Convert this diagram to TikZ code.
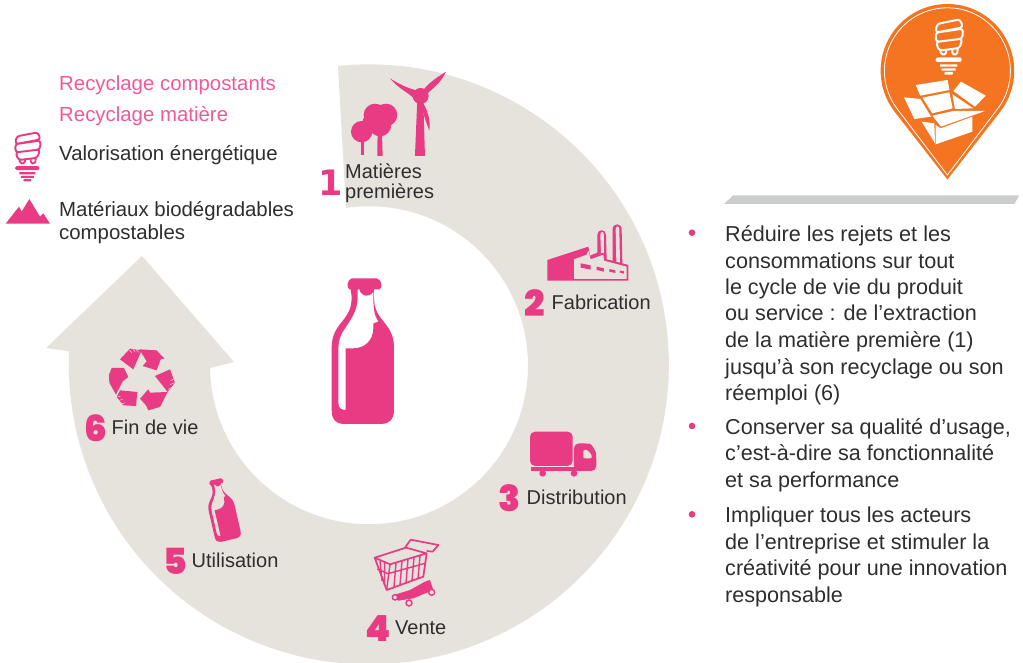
\documentclass[tikz,border=0pt]{standalone}
\usepackage{fontspec}
\setmainfont{Liberation Sans}
\newfontfamily\numfont{Poppins Black}
\newfontfamily\onefont{DejaVu Sans Bold}
\definecolor{ringc}{HTML}{E6E3DD}
\definecolor{pinkc}{HTML}{E83B83}
\definecolor{lightpink}{HTML}{EF5A9C}
\definecolor{orangec}{HTML}{F47421}
\definecolor{barc}{HTML}{CCCDCF}
\definecolor{txtc}{HTML}{2E2E2E}
\tikzset{
  lab/.style={anchor=base west,inner sep=0pt,yshift=-.8pt,text=txtc,font=\fontsize{20}{21}\selectfont},
  legendlab/.style={lab,font=\fontsize{20.4}{21}\selectfont},
  bodytxt/.style={anchor=base west,inner sep=0pt,yshift=-.8pt,text=txtc,font=\fontsize{21.6}{22}\selectfont},
  pinklab/.style={anchor=base west,inner sep=0pt,yshift=-.8pt,text=lightpink,font=\fontsize{20.4}{21}\selectfont},
  numlab/.style={anchor=base,inner sep=0pt,text=pinkc,font=\numfont\fontsize{36}{36}\selectfont},
  bulletdot/.style={circle,fill=pinkc,inner sep=0pt,minimum size=6.6pt}
}
% bulb icon: #1 scope options, #2 colour, #3 line width
\newcommand{\bulbicon}[3]{%
\begin{scope}[#1]
  \draw[#2,line width=#3,rounded corners=3pt,line join=round]
    (36,42) -- (105,28) -- (114,52) -- (32,68) -- cycle
    (32,68) -- (114,56) -- (112,86) -- (33,96) -- cycle
    (33,96) -- (112,86) -- (104,114) -- (42,122) -- cycle;
  \draw[#2,line width=#3,rounded corners=1.6pt]
    (46,120) -- (48,133) -- (63,133) -- (63,118)
    (82,116) -- (82,133) -- (97,133) -- (98,112);
  \fill[#2,rounded corners=1.5pt] (32,142) rectangle (110,156);
  \fill[#2] (45,163) rectangle (97,170) (50,175) rectangle (92,182);
  \fill[#2,rounded corners=1pt] (58,186) rectangle (84,194);
\end{scope}}
% bottle icon: even-odd silhouette
\newcommand{\bottleicon}[1]{%
\begin{scope}[#1]
  \fill[pinkc,even odd rule]
   (122,88) -- (118,88) .. controls (110,85) and (110,60) .. (125,55) -- (200,55)
   .. controls (218,60) and (218,85) .. (208,88) -- (192,88) -- (192,110)
   .. controls (192,150) and (205,165) .. (225,190) .. controls (245,215) and (252,235) .. (252,265)
   -- (252,450) .. controls (252,480) and (235,492) .. (215,492) -- (100,492)
   .. controls (80,492) and (65,480) .. (65,450) -- (65,265)
   .. controls (65,235) and (72,215) .. (92,190) .. controls (112,165) and (125,150) .. (125,110) -- cycle
   (143,88) -- (143,110) .. controls (143,150) and (125,175) .. (105,205)
   .. controls (90,225) and (85,245) .. (85,270) -- (85,430)
   .. controls (85,445) and (95,450) .. (107,450) -- (107,265) -- (130,265)
   .. controls (165,265) and (190,240) .. (190,205) -- (190,190) -- (205,185)
   .. controls (195,170) and (190,150) .. (190,115) -- (190,95)
   .. controls (185,105) and (170,110) .. (160,105) .. controls (152,100) and (150,95) .. (148,88) -- cycle;
\end{scope}}
\begin{document}
\begin{tikzpicture}[x=1pt,y=-1pt]
\useasboundingbox (0,0) rectangle (1023,663);
\fill[white] (0,0) rectangle (1023,663);
% ring arrow
\fill[ringc] (338,66) arc[start angle=95.9,end angle=-182.5,radius=300pt]
  -- (46,348) -- (142,256) -- (234,362) -- (210,368)
  arc[start angle=181,end angle=458.3,radius=159pt] -- cycle;
% central bottle
\bottleicon{shift={(310,260)},x=.3333pt,y=-.3333pt}
% small bottle
\bottleicon{shift={(222,510)},rotate=13,x=.142pt,y=-.142pt,shift={(-158,-275)}}
% legend + turbine + trees (zoom 1 frame)
\begin{scope}[shift={(0,50)},x=.3333pt,y=-.3333pt]
  \fill[pinkc] (17,521) -- (57,470) -- (65,485) -- (88,447) -- (120,500) -- (130,490) -- (150,521) -- cycle;
  % turbine
  \fill[pinkc] (1262,138) circle[radius=24];
  \fill[pinkc] (1252,150) -- (1245,318) -- (1275,318) -- (1270,150) -- cycle;
  \fill[pinkc] (1245,120) .. controls (1215,112) and (1185,95) .. (1170,85) .. controls (1195,115) and (1220,125) .. (1242,145) -- cycle;
  \fill[pinkc] (1270,120) .. controls (1290,95) and (1315,80) .. (1338,65) .. controls (1325,95) and (1305,110) .. (1283,130) -- cycle;
  \fill[pinkc] (1270,160) .. controls (1285,185) and (1292,215) .. (1288,242) .. controls (1280,220) and (1270,195) .. (1265,165) -- cycle;
  % trees
  \fill[pinkc] (1125,195) circle[radius=34] (1158,195) circle[radius=34] (1140,225) circle[radius=34] (1108,215) circle[radius=20];
  \fill[pinkc] (1133,240) -- (1132,318) -- (1148,318) -- (1146,240) -- cycle;
  \fill[pinkc] (1085,245) circle[radius=32];
  \fill[pinkc] (1083,260) rectangle (1092,315);
\end{scope}
\bulbicon{shift={(5.3,124)},x=.31pt,y=-.296pt}{pinkc}{1.9pt}
% factory (crop frame)
\begin{scope}[shift={(540,220)},x=.3333pt,y=-.3333pt]
  \fill[pinkc] (22,120) -- (145,80) -- (150,107) -- (172,98) -- (172,45)
    .. controls (172,26) and (198,26) .. (198,45) -- (200,118) -- (218,122) -- (218,28)
    .. controls (218,8) and (245,8) .. (245,28) -- (247,130) -- (265,135) -- (265,182) -- (22,182) -- cycle;
  \fill[ringc] (102,177) -- (102,118) -- (140,104) -- (145,92) -- (152,118) -- (190,104) -- (192,122) -- (260,140) -- (260,177) -- cycle;
  \fill[ringc] (181,45) .. controls (181,33) and (192,33) .. (192,45) -- (192,98) -- (183,100) -- cycle;
  \fill[ringc] (227,28) .. controls (227,16) and (238,16) .. (238,28) -- (240,128) -- (229,125) -- cycle;
  \fill[pinkc] (122,130) -- (152,136) -- (152,149) -- (122,143) -- cycle
     (170,140) -- (192,145) -- (192,155) -- (170,150) -- cycle
     (208,147) -- (226,151) -- (226,159) -- (208,155) -- cycle
     (240,152) -- (252,154) -- (252,161) -- (240,158) -- cycle;
\end{scope}
% truck (zoom 3 frame)
\begin{scope}[shift={(490,210)},x=.3333pt,y=-.3333pt]
  \fill[pinkc,rounded corners=5pt] (120,665) rectangle (248,768);
  \fill[pinkc,rounded corners=5pt] (252,700) -- (285,700) .. controls (305,702) and (318,725) .. (319,745) -- (319,783) -- (252,783) -- cycle;
  \fill[pinkc] (123,771) rectangle (270,783);
  \fill[ringc,rounded corners=1pt] (280,720) -- (292,720) -- (305,735) -- (305,745) -- (280,745) -- cycle;
  \fill[pinkc] (158,790) circle[radius=10] (252,790) circle[radius=10];
\end{scope}
% cart (crop frame)
\begin{scope}[shift={(370,535)},x=.3333pt,y=-.3333pt]
  \draw[pinkc,line width=1.7pt,line join=round]
    (14,68) -- (108,38) -- (170,55) -- (160,125) -- (50,165) -- cycle
    (14,68) -- (60,88) -- (170,55)
    (105,38) -- (122,14) -- (205,30) -- (188,50) -- (170,48);
  \draw[pinkc,line width=1.4pt]
    (22,102) -- (54,116) -- (165,85)
    (60,88) -- (50,165)
    (30,78) -- (36,138) (44,84) -- (43,150)
    (78,84) -- (72,156) (96,78) -- (90,150) (114,73) -- (108,144) (132,68) -- (126,137) (150,62) -- (144,131);
  \fill[pinkc] (65,182) -- (120,165) -- (165,140) -- (180,135) -- (190,165) -- (130,190) -- (85,197) -- cycle;
  \draw[pinkc,line width=1.4pt,fill=ringc] (75,187) circle[radius=8] (117,204) circle[radius=9] (185,172) circle[radius=9];
\end{scope}
% recycle (crop frame)
\begin{scope}[shift={(100,342)},x=.3333pt,y=-.3333pt]
  \fill[pinkc] (60,52) -- (90,20) -- (125,25) -- (100,82) -- cycle;
  \fill[pinkc] (118,22) -- (170,25) -- (193,50) -- (182,52) -- (170,85) -- (128,72) -- (140,58) -- cycle;
  \fill[pinkc] (165,102) -- (210,82) -- (225,122) -- (203,150) -- cycle;
  \fill[pinkc] (203,150) -- (180,195) -- (145,205) -- (138,190) -- (120,170) -- (145,142) -- (150,152) -- cycle;
  \fill[pinkc] (60,145) -- (112,150) -- (108,192) -- (70,190) -- (50,165) -- cycle;
  \fill[pinkc] (27,98) -- (35,78) -- (72,78) -- (85,105) -- (68,118) -- (48,158) -- (28,122) -- cycle;
  \draw[ringc,line width=.5pt] (88,24) -- (96,32) (98,21) -- (106,30) (108,22) -- (116,31)
    (222,110) -- (212,116) (224,122) -- (210,128) (216,136) -- (205,142)
    (52,165) -- (62,162) (58,175) -- (68,172) (66,185) -- (76,182);
\end{scope}
% orange pin
\fill[orangec] (947.4,179.5) -- ({947.4+66.8*cos(38)},{70.8+66.8*sin(38)})
  arc[start angle=-38,end angle=218,radius=66.8pt] -- cycle;
\draw[white,line width=.8pt] (947.4,175) -- ({947.4+63*cos(38)},{70.8+63*sin(38)})
  arc[start angle=-38,end angle=218,radius=63pt] -- cycle;
\bulbicon{shift={(925,10)},x=.3333pt,y=-.3333pt}{white}{2pt}
\begin{scope}[shift={(895,75)},x=.3333pt,y=-.3333pt]
  \fill[white] (62,30) -- (158,15) -- (163,45) -- (76,62) -- cycle;
  \fill[white] (175,48) -- (198,20) -- (272,62) -- (240,95) -- cycle;
  \fill[white] (27,67) -- (76,72) -- (108,125) -- (58,132) -- cycle;
  \fill[white] (82,68) -- (163,52) -- (173,100) -- (112,115) -- cycle;
  \fill[white] (172,58) -- (235,100) -- (180,102) -- cycle;
  \fill[white] (112,122) -- (175,108) -- (270,108) -- (138,155) -- cycle;
  \fill[white] (122,150) -- (137,160) -- (232,125) -- (232,170) -- (122,208) -- cycle;
  \fill[white] (80,140) -- (118,145) -- (120,205) -- cycle;
\end{scope}
% grey bar
\fill[barc] (733,195.5) -- (1019,195.5) -- (1014.5,204) -- (724,204) -- cycle;
% legend
\node[pinklab] (l1) at (59,89.3) {Recyclage compostants};
\node[pinklab] (l2) at (59,121) {Recyclage matière};
\node[legendlab] (l3) at (59,160) {Valorisation énergétique};
\node[legendlab] (l4) at (59,215.7) {Matériaux biodégradables};
\node[legendlab] (l5) at (59,238.3) {compostables};
% labels
\node[numlab,font=\onefont\fontsize{35}{35}\selectfont] (n1) at (330.5,196) {1};
\node[numlab] (n2) at (534.5,316.7) {2};
\node[numlab] (n3) at (509.7,511.5) {3};
\node[numlab] (n4) at (378,641.5) {4};
\node[numlab] (n5) at (175.5,574) {5};
\node[numlab] (n6) at (95.5,441) {6};
\node[lab] (t1a) at (345,178) {Matières};
\node[lab] (t1b) at (345,198) {premières};
\node[lab] (t2) at (551.5,309) {Fabrication};
\node[lab] (t3) at (526.5,504) {Distribution};
\node[lab] (t4) at (395,633.3) {Vente};
\node[lab] (t5) at (191.5,566.7) {Utilisation};
\node[lab] (t6) at (111.5,434) {Fin de vie};
% right text
\node[bulletdot] (b1) at (692,232.7) {};
\node[bulletdot] (b2) at (692,426) {};
\node[bulletdot] (b3) at (692,514.3) {};
\node[bodytxt] (r1) at (725,240.7) {Réduire les rejets et les};
\node[bodytxt] (r2) at (725,267.3) {consommations sur tout};
\node[bodytxt] (r3) at (725,293.5) {le cycle de vie du produit};
\node[bodytxt] (r4) at (725,320) {ou service : de l’extraction};
\node[bodytxt] (r5) at (725,346.7) {de la matière première (1)};
\node[bodytxt] (r6) at (725,373.3) {jusqu’à son recyclage ou son};
\node[bodytxt] (r7) at (725,400) {réemploi (6)};
\node[bodytxt] (r8) at (725,433.3) {Conserver sa qualité d’usage,};
\node[bodytxt] (r9) at (725,460) {c’est-à-dire sa fonctionnalité};
\node[bodytxt] (r10) at (725,487) {et sa performance};
\node[bodytxt] (r11) at (725,521.7) {Impliquer tous les acteurs};
\node[bodytxt] (r12) at (725,548.3) {de l’entreprise et stimuler la};
\node[bodytxt] (r13) at (725,575) {créativité pour une innovation};
\node[bodytxt] (r14) at (725,601.7) {responsable};
\end{tikzpicture}
\end{document}
